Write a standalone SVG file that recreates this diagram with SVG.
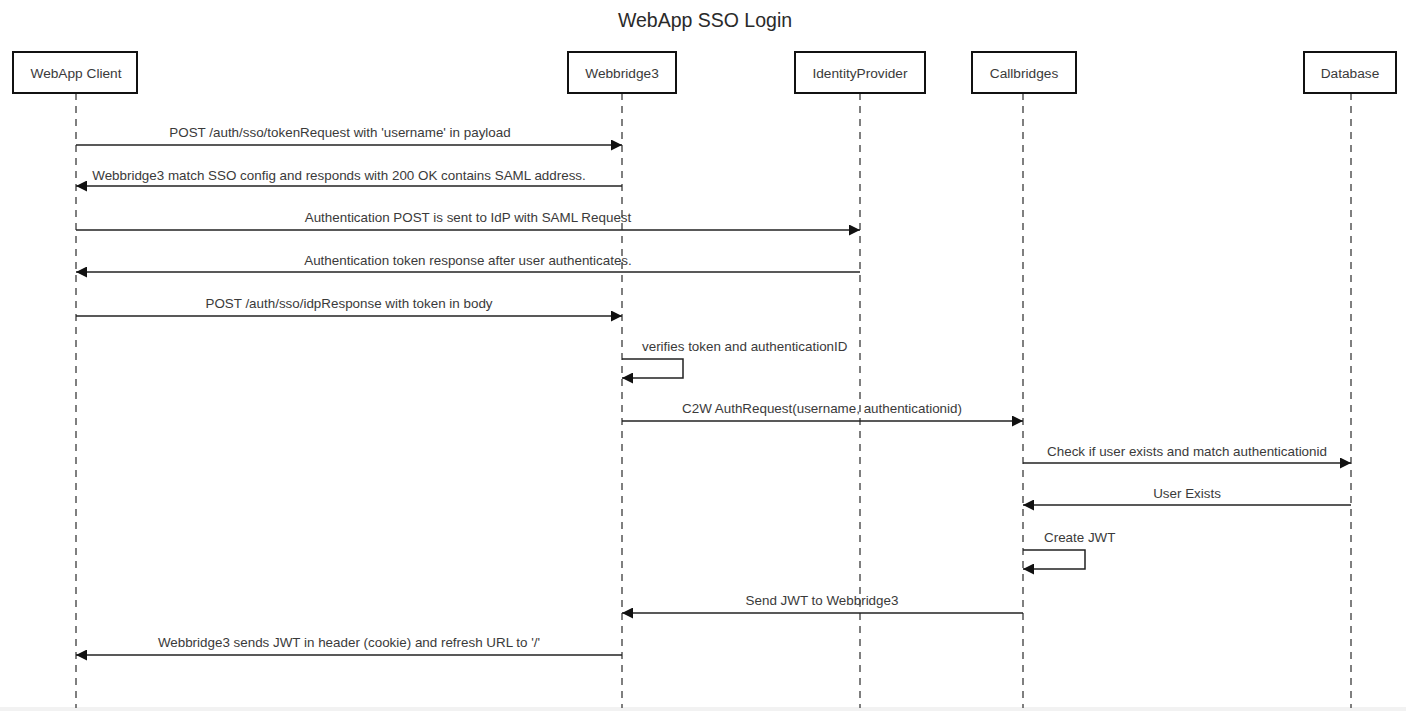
<svg xmlns="http://www.w3.org/2000/svg" width="1406" height="711" viewBox="0 0 1406 711">
<style>
.box{fill:#fff;stroke:#111;stroke-width:2}
.nt{font-family:"Liberation Sans",Arial,sans-serif;font-size:13.7px;fill:#3a3a3a;text-anchor:middle}
.life{stroke:#555;stroke-width:1.5;stroke-dasharray:7,6;fill:none}
.msg{stroke:#222;stroke-width:1.5;fill:none}
.lbl{font-family:"Liberation Sans",Arial,sans-serif;font-size:13.4px;fill:#3a3a3a;text-anchor:middle}
.lbll{font-family:"Liberation Sans",Arial,sans-serif;font-size:13.4px;fill:#3a3a3a;text-anchor:start}
</style>
<defs>
<marker id="ah" viewBox="0 0 10 10" refX="10" refY="5" markerWidth="11" markerHeight="11" markerUnits="userSpaceOnUse" orient="auto">
<path d="M0,0 L10,5 L0,10 z" fill="#111"/>
</marker>
</defs>
<rect x="0" y="0" width="1406" height="711" fill="#fff"/>
<rect x="0" y="707" width="1406" height="4" fill="#f2f2f2"/>
<text x="705" y="27" font-family="'Liberation Sans',Arial,sans-serif" font-size="19.5" fill="#2a2a2a" text-anchor="middle">WebApp SSO Login</text>

<g id="client">
<line class="life" x1="76" y1="93" x2="76" y2="708"/>
<rect class="box" x="13" y="52" width="124" height="41"/>
<text class="nt" x="76" y="78">WebApp Client</text>
</g>
<g id="webbridge3">
<line class="life" x1="622" y1="93" x2="622" y2="708"/>
<rect class="box" x="568" y="52" width="108" height="41"/>
<text class="nt" x="622" y="78">Webbridge3</text>
</g>
<g id="idp">
<line class="life" x1="860" y1="93" x2="860" y2="708"/>
<rect class="box" x="795" y="52" width="130" height="41"/>
<text class="nt" x="860" y="78">IdentityProvider</text>
</g>
<g id="callbridges">
<line class="life" x1="1023" y1="93" x2="1023" y2="708"/>
<rect class="box" x="972" y="52" width="104" height="41"/>
<text class="nt" x="1024" y="78">Callbridges</text>
</g>
<g id="database">
<line class="life" x1="1351" y1="93" x2="1351" y2="708"/>
<rect class="box" x="1304" y="52" width="92" height="41"/>
<text class="nt" x="1350" y="78">Database</text>
</g>

<g id="connectors">
<line class="msg" x1="76" y1="145" x2="622" y2="145" marker-end="url(#ah)"/>
<text class="lbl" x="340" y="137">POST /auth/sso/tokenRequest with 'username' in payload</text>

<line class="msg" x1="622" y1="186" x2="76" y2="186" marker-end="url(#ah)"/>
<text class="lbl" x="339" y="180">Webbridge3 match SSO config and responds with 200 OK contains SAML address.</text>

<line class="msg" x1="76" y1="230" x2="860" y2="230" marker-end="url(#ah)"/>
<text class="lbl" x="468" y="222">Authentication POST is sent to IdP with SAML Request</text>

<line class="msg" x1="860" y1="272" x2="76" y2="272" marker-end="url(#ah)"/>
<text class="lbl" x="468" y="265">Authentication token response after user authenticates.</text>

<line class="msg" x1="76" y1="316" x2="622" y2="316" marker-end="url(#ah)"/>
<text class="lbl" x="349" y="308">POST /auth/sso/idpResponse with token in body</text>

<polyline class="msg" points="622,359 683,359 683,378 622,378" marker-end="url(#ah)"/>
<text class="lbll" x="642" y="351">verifies token and authenticationID</text>

<line class="msg" x1="622" y1="421" x2="1023" y2="421" marker-end="url(#ah)"/>
<text class="lbl" x="822" y="413">C2W AuthRequest(username, authenticationid)</text>

<line class="msg" x1="1023" y1="463" x2="1351" y2="463" marker-end="url(#ah)"/>
<text class="lbl" x="1187" y="456">Check if user exists and match authenticationid</text>

<line class="msg" x1="1351" y1="505" x2="1023" y2="505" marker-end="url(#ah)"/>
<text class="lbl" x="1187" y="498">User Exists</text>

<polyline class="msg" points="1023,550 1085,550 1085,569 1023,569" marker-end="url(#ah)"/>
<text class="lbll" x="1044" y="542">Create JWT</text>

<line class="msg" x1="1023" y1="613" x2="622" y2="613" marker-end="url(#ah)"/>
<text class="lbl" x="822" y="605">Send JWT to Webbridge3</text>

<line class="msg" x1="622" y1="655" x2="76" y2="655" marker-end="url(#ah)"/>
<text class="lbl" x="349" y="647">Webbridge3 sends JWT in header (cookie) and refresh URL to '/'</text>
</g>
</svg>
